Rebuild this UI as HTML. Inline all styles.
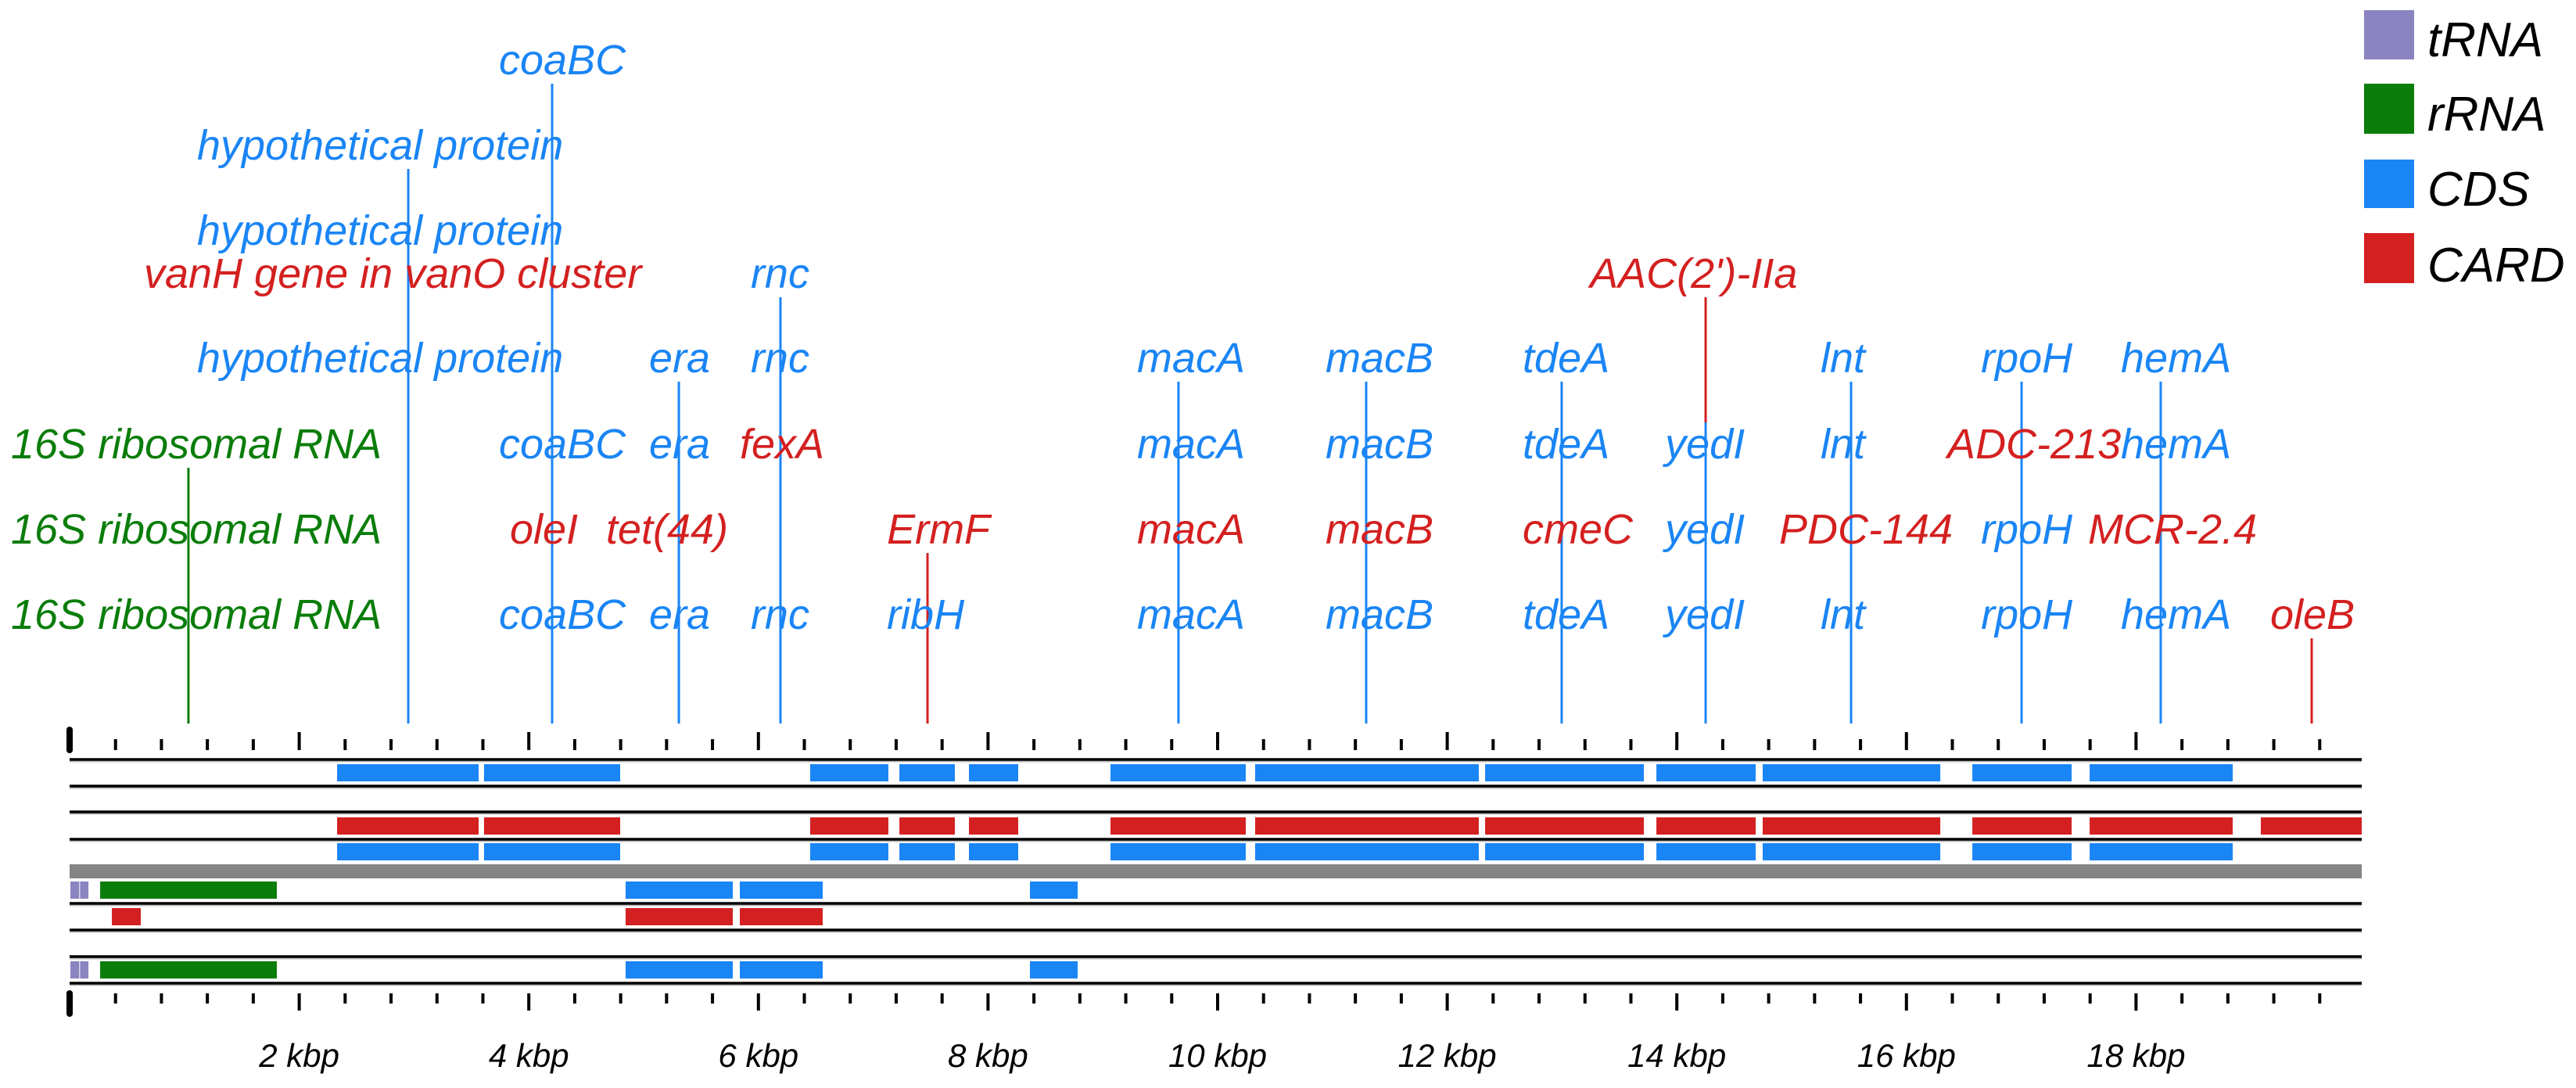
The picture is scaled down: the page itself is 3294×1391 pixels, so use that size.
<!DOCTYPE html>
<html><head><meta charset="utf-8">
<style>
html,body{margin:0;padding:0;background:#fff;}
svg{display:block;}
text{font-family:"Liberation Sans",sans-serif;font-style:italic;}
</style></head>
<body>
<svg id="chart" width="3294" height="1391" viewBox="0 0 3294 1391" xmlns="http://www.w3.org/2000/svg">
<g id="stems"></g>
<g id="labels"></g>
<g id="tracks"></g>
<g id="axis"></g>
<g id="legend">
  <rect x="3023" y="13" width="64" height="63" fill="#8a84c0"/>
  <text x="3104" y="72" font-size="62" fill="#000">tRNA</text>
  <rect x="3023" y="107" width="64" height="64" fill="#0a7d0a"/>
  <text x="3104" y="167" font-size="62" fill="#000">rRNA</text>
  <rect x="3023" y="204" width="64" height="62" fill="#1a85f5"/>
  <text x="3104" y="263" font-size="62" fill="#000">CDS</text>
  <rect x="3023" y="298" width="64" height="64" fill="#d42020"/>
  <text x="3104" y="360" font-size="62" fill="#000">CARD</text>
</g>
</svg>
<script>
// ---- data (bp) ----
const seqLength = 19966;
const cdsBlocks = [[2330,3563],[3610,4796],[6451,7132],[7228,7711],[7834,8263],[9067,10245],[10327,12275],[12330,13713],[13822,14687],[14748,16295],[16574,17439],[17596,18842]];
const cardBlocks = [[2330,3563],[3610,4796],[6451,7132],[7228,7711],[7834,8263],[9067,10245],[10327,12275],[12330,13713],[13822,14687],[14748,16295],[16574,17439],[17596,18842],[19087,19966]];
const lowerTrna = [[7,84],[91,164]];
const lowerRrna = [[266,1805]];
const lowerCds = [[4843,5777],[5838,6560],[8365,8781]];
const lowerCard = [[368,620],[4843,5777],[5838,6560]];
const tickLabels = ["2 kbp","4 kbp","6 kbp","8 kbp","10 kbp","12 kbp","14 kbp","16 kbp","18 kbp"];
const tickValues = [2000,4000,6000,8000,10000,12000,14000,16000,18000];
// stems: position bp, top row, colour
const stemPos = [1035,2950,4203,5307,6192,7473,9659,11294,12997,14251,15518,17003,18215,19530];
const stemTopRow = [5,1,0,4,3,6,4,4,4,3,4,4,4,7];
const stemColor = ["#0a7d0a","#1a85f5","#1a85f5","#1a85f5","#1a85f5","#d42020","#1a85f5","#1a85f5","#1a85f5","#d42020","#1a85f5","#1a85f5","#1a85f5","#d42020"];
// labels: row, text, colour key, left edge (bp)
const labelRows = [0,1,2,3,3,3,4,4,4,4,4,4,4,4,4,5,5,5,5,5,5,5,5,5,5,5,6,6,6,6,6,6,6,6,6,6,6,6,7,7,7,7,7,7,7,7,7,7,7,7,7,7];
const labelText = ["coaBC","hypothetical protein","hypothetical protein","vanH gene in vanO cluster","rnc","AAC(2')-IIa",
 "hypothetical protein","era","rnc","macA","macB","tdeA","lnt","rpoH","hemA",
 "16S ribosomal RNA","coaBC","era","fexA","macA","macB","tdeA","yedI","lnt","ADC-213","hemA",
 "16S ribosomal RNA","oleI","tet(44)","ErmF","macA","macB","cmeC","yedI","PDC-144","rpoH","MCR-2.4","hemA",
 "16S ribosomal RNA","coaBC","era","rnc","ribH","macA","macB","tdeA","yedI","lnt","rpoH","hemA","oleB","hemA"];
const labelKind = ["c","c","c","r","c","r","c","c","c","c","c","c","c","c","c",
 "g","c","c","r","c","c","c","c","c","r","c",
 "g","r","r","r","r","r","r","c","r","c","r","x",
 "g","c","c","c","c","c","c","c","c","c","c","c","r","x"];
const labelStart = [3740,1110,1110,647,5933,13243,1110,5048,5933,9298,10940,12657,15252,16649,17868,
 -511,3740,5048,5838,9298,10940,12657,13897,15252,16356,17868,
 -511,3835,4673,7119,9298,10940,12657,13897,14891,16649,17582,0,
 -511,3740,5048,5933,7119,9298,10940,12657,13897,15252,16649,17868,19169,0];

// ---- layout ----
const X0 = 89, PXPERBP = 146.8/1000;
const xs = bp => X0 + bp*PXPERBP;
const rowBase = [95,204,313,368,476,586,695,804];
const stemBottom = 925;
const colors = {c:"#1a85f5", r:"#d42020", g:"#0a7d0a", t:"#8a84c0"};
const NS = "http://www.w3.org/2000/svg";
function mk(tag, attrs, parent){ const e=document.createElementNS(NS,tag); for(const k in attrs) e.setAttribute(k,attrs[k]); parent.appendChild(e); return e; }

const stemsG = document.getElementById('stems');
stemPos.forEach((p,i)=>{
  const x = xs(p);
  const top = rowBase[stemTopRow[i]] + 12;
  if (i===9) {
    const l1 = mk('line',{x1:x,x2:x,y1:top,y2:540,stroke:"#d42020","stroke-width":3},stemsG);
    
    
    const l2 = mk('line',{x1:x,x2:x,y1:540,y2:stemBottom,stroke:"#1a85f5","stroke-width":3},stemsG);
    
    
  } else {
    const l = mk('line',{x1:x,x2:x,y1:top,y2:stemBottom,stroke:stemColor[i],"stroke-width":3},stemsG);
    
    
  }
});

const labelsG = document.getElementById('labels');
labelText.forEach((t,i)=>{
  if (labelKind[i]==="x") return;
  const tx = mk('text',{x:xs(labelStart[i]),y:rowBase[labelRows[i]],"font-size":54,fill:colors[labelKind[i]],stroke:"#fff","stroke-width":0,"paint-order":"stroke"},labelsG);
  tx.textContent = t;
  
  
});

const tracksG = document.getElementById('tracks');
const xEnd = xs(seqLength);
[971,1005,1038,1073,1155,1189,1223,1257].forEach(y=>{
  const g = mk('line',{x1:X0,x2:xEnd,y1:y+2.5,y2:y+2.5,stroke:"#bbb","stroke-width":2},tracksG);
  
  
  const l = mk('line',{x1:X0,x2:xEnd,y1:y,y2:y,stroke:"#000","stroke-width":3.5},tracksG);
  
  
});
const seqBar = mk('rect',{x:X0,y:1105,width:xEnd-X0,height:18,fill:"#858585"},tracksG);



function drawBlocks(arr, y, color, name){
  arr.forEach(b=>{
    const r = mk('rect',{x:xs(b[0]),y:y,width:xs(b[1])-xs(b[0]),height:22,fill:color},tracksG);
    
    
  });
}
drawBlocks(cdsBlocks,977,colors.c,'cds-block');
drawBlocks(cardBlocks,1045,colors.r,'card-block');
drawBlocks(cdsBlocks,1078,colors.c,'cds-block');
drawBlocks(lowerTrna,1127,colors.t,'trna-block');
drawBlocks(lowerRrna,1127,colors.g,'rrna-block');
drawBlocks(lowerCds,1127,colors.c,'cds-block');
drawBlocks(lowerCard,1161,colors.r,'card-block');
drawBlocks(lowerTrna,1229,colors.t,'trna-block');
drawBlocks(lowerRrna,1229,colors.g,'rrna-block');
drawBlocks(lowerCds,1229,colors.c,'cds-block');

const axisG = document.getElementById('axis');
for (let bp=0; bp<=seqLength; bp+=400){
  const x = xs(bp);
  const major = bp%2000===0;
  const w = bp===0 ? 8 : (major ? 4 : 4);
  const topY1 = bp===0 ? 933 : (major ? 936 : 945);
  const t1 = mk('line',{x1:x,x2:x,y1:topY1,y2:959,stroke:"#000","stroke-width":w,"stroke-linecap":bp===0?"round":"butt"},axisG);
  
  
  const botY2 = bp===0 ? 1296 : (major ? 1292 : 1283);
  const t2 = mk('line',{x1:x,x2:x,y1:1270,y2:botY2,stroke:"#000","stroke-width":w,"stroke-linecap":bp===0?"round":"butt"},axisG);
  
  
}
tickValues.forEach((v,i)=>{
  const t = mk('text',{x:xs(v),y:1364,"font-size":42,"text-anchor":"middle",fill:"#000"},axisG);
  t.textContent = tickLabels[i];
  
  
});
</script>
</body></html>
